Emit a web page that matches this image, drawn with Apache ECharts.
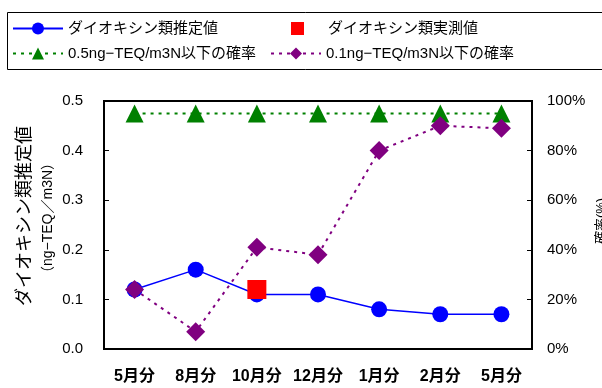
<!DOCTYPE html>
<html>
<head>
<meta charset="utf-8">
<script src="https://cdn.jsdelivr.net/npm/echarts@6/dist/echarts.min.js"></script>
<style>
html,body{margin:0;padding:0;background:#fff;}
#chart{width:602px;height:388px;}
</style>
</head>
<body>
<div id="chart"></div>
<script>
var categories = ['5月分', '8月分', '10月分', '12月分', '1月分', '2月分', '5月分'];
var estimated = [0.12, 0.16, 0.11, 0.11, 0.08, 0.07, 0.07];
var measured = ['-', '-', 0.12, '-', '-', '-', '-'];
var prob05 = [95, 95, 95, 95, 95, 95, 95];
var prob01 = [24, 7, 41, 38, 80, 90, 89];
var leftTicks = [0, 0.1, 0.2, 0.3, 0.4, 0.5];
var rightTicks = [0, 20, 40, 60, 80, 100];

var names = {
  est: 'ダイオキシン類推定値',
  meas: 'ダイオキシン類実測値',
  p05: '0.5ng−TEQ/m3N以下の確率',
  p01: '0.1ng−TEQ/m3N以下の確率'
};
var FONT = "'Liberation Sans', 'Noto Sans CJK JP', sans-serif";

var chart = echarts.init(document.getElementById('chart'), null, {renderer: 'canvas'});

function leg(name, left, top, extra) {
  var o = {
    data: [name],
    left: left,
    top: top,
    orient: 'horizontal',
    padding: 0,
    itemWidth: 50,
    itemHeight: 15,
    selectedMode: false,
    textStyle: {fontSize: 15, color: '#000', fontFamily: FONT}
  };
  if (extra) { for (var k in extra) o[k] = extra[k]; }
  return o;
}

var option = {
  animation: false,
  backgroundColor: '#fff',
  textStyle: {fontFamily: FONT},
  graphic: [
    {type: 'rect', shape: {x: 7.5, y: 12.5, width: 620, height: 57}, style: {fill: 'none', stroke: '#000', lineWidth: 1}, z: 0},
    {type: 'text', x: 25, y: 216, rotation: Math.PI / 2,
      style: {text: 'ダイオキシン類推定値', fontSize: 18, fontFamily: FONT, fill: '#000', textAlign: 'center', textVerticalAlign: 'middle'}},
    {type: 'text', x: 48, y: 218, rotation: Math.PI / 2,
      style: {text: '（ng−TEQ／m3N）', fontSize: 14, fontFamily: FONT, fill: '#000', textAlign: 'center', textVerticalAlign: 'middle'}},
    {type: 'text', x: 601, y: 221, rotation: Math.PI / 2,
      style: {text: '確率(%)', fontSize: 13, fontFamily: FONT, fill: '#000', textAlign: 'center', textVerticalAlign: 'middle'}}
  ],
  legend: [
    leg(names.est, 12, 21),
    leg(names.meas, 291, 21, {icon: 'rect', itemWidth: 13, itemHeight: 13, itemStyle: {opacity: 1}, textStyle: {fontSize: 15, color: '#000', fontFamily: FONT, padding: [0, 0, 0, 19]}}),
    leg(names.p05, 12, 46),
    leg(names.p01, 270, 46)
  ],
  grid: {left: 104, right: 70, top: 101, bottom: 39, show: true, borderColor: '#000', borderWidth: 2, backgroundColor: 'transparent'},
  xAxis: {
    type: 'category',
    data: categories,
    boundaryGap: true,
    axisLine: {lineStyle: {color: '#000', width: 2}},
    axisTick: {inside: true, length: 5, lineStyle: {color: '#000', width: 1}},
    axisLabel: {color: '#000', fontSize: 16, fontWeight: 'bold', margin: 20, fontFamily: FONT, interval: 0},
    splitLine: {show: false}
  },
  yAxis: [
    {
      type: 'value', min: leftTicks[0], max: leftTicks[leftTicks.length - 1], interval: 0.1,
      axisLine: {show: true, lineStyle: {color: '#000', width: 2}},
      axisTick: {show: true, inside: true, length: 5, lineStyle: {color: '#000'}},
      axisLabel: {color: '#000', fontSize: 15, margin: 21, fontFamily: FONT, formatter: function (v) { return v.toFixed(1); }},
      splitLine: {show: false}
    },
    {
      type: 'value', position: 'right', min: rightTicks[0], max: rightTicks[rightTicks.length - 1], interval: 20,
      axisLine: {show: true, lineStyle: {color: '#000', width: 2}},
      axisTick: {show: true, inside: true, length: 5, lineStyle: {color: '#000'}},
      axisLabel: {color: '#000', fontSize: 15, margin: 15, fontFamily: FONT, formatter: '{value}%'},
      splitLine: {show: false}
    }
  ],
  series: [
    {
      name: names.p05, type: 'line', yAxisIndex: 1, data: prob05, z: 2,
      symbol: 'triangle', symbolSize: 18,
      itemStyle: {color: '#008000'},
      lineStyle: {color: '#008000', width: 2, type: [3, 5]}
    },
    {
      name: names.est, type: 'line', yAxisIndex: 0, data: estimated, z: 3,
      symbol: 'circle', symbolSize: 16,
      itemStyle: {color: '#0000ff'},
      lineStyle: {color: '#0000ff', width: 1.5}
    },
    {
      name: names.p01, type: 'line', yAxisIndex: 1, data: prob01, z: 4,
      symbol: 'diamond', symbolSize: 19,
      itemStyle: {color: '#800080'},
      lineStyle: {color: '#800080', width: 2, type: [3, 5]}
    },
    {
      name: names.meas, type: 'scatter', yAxisIndex: 0, data: measured, z: 6,
      symbol: 'rect', symbolSize: 19,
      itemStyle: {color: '#ff0000', opacity: 1}
    }
  ]
};
chart.setOption(option);
</script>
</body>
</html>
